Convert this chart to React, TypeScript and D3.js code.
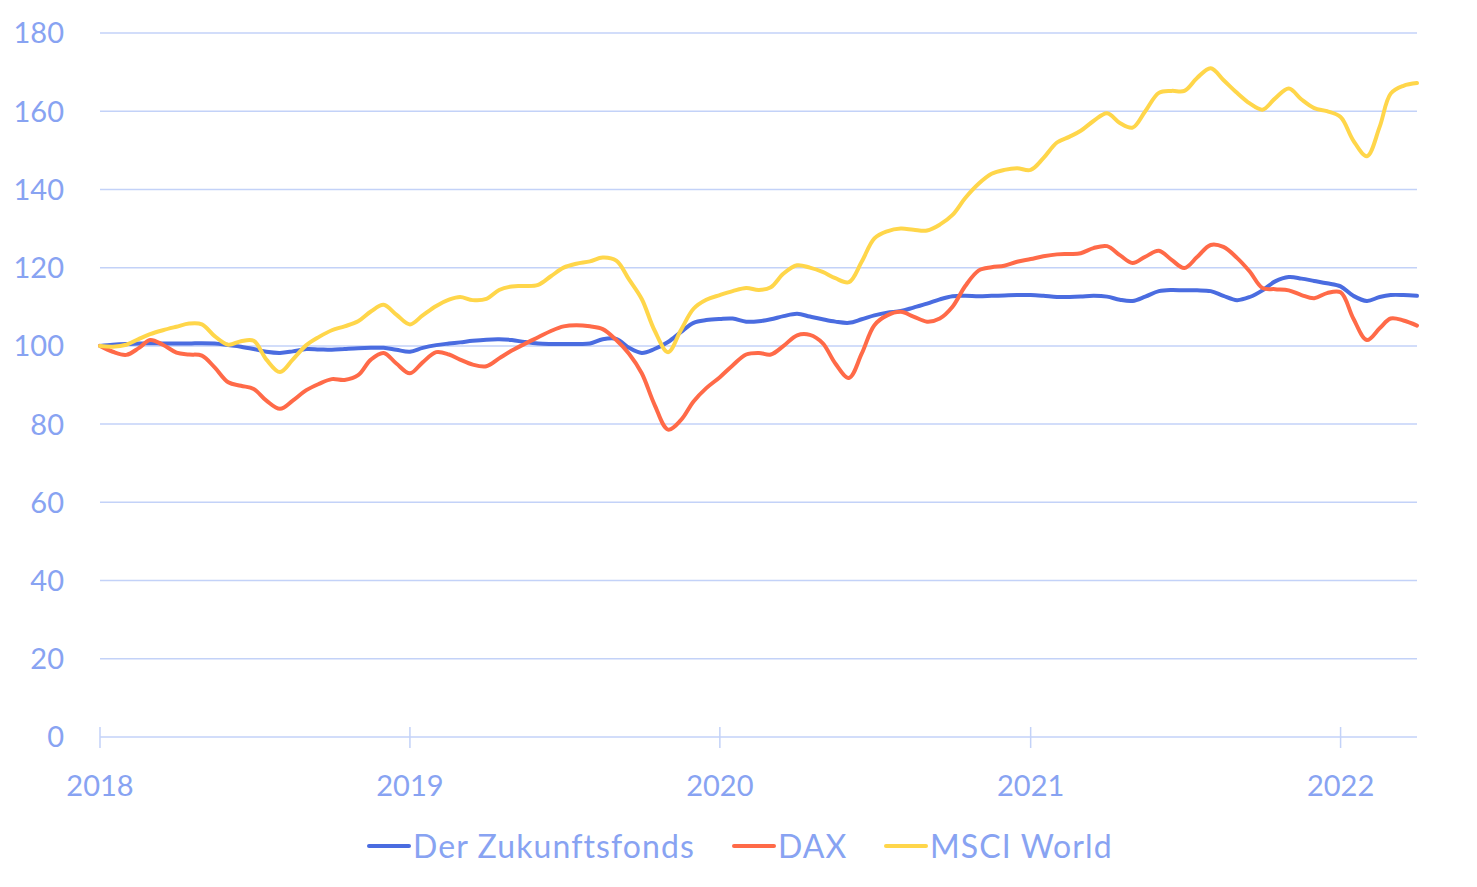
import React, { useRef, useEffect } from "react";
import * as d3 from "d3";

// half-monthly observations, 1 Jan 2018 .. 1 Apr 2022
const startYear = 2018;
const pointCount = 103;
const dates = d3.range(pointCount).map(i => new Date(startYear, Math.floor(i / 2), i % 2 ? 16 : 1));

const zukunftsfonds = [
  100, 100.3, 100.5, 100.6, 100.7, 100.6, 100.6, 100.6, 100.7, 100.6,
  100.2, 99.8, 99.2, 98.5, 98.2, 98.6, 99.2, 99.1, 99, 99.2,
  99.4, 99.5, 99.5, 99, 98.5, 99.5, 100.2, 100.6, 100.9, 101.3,
  101.6, 101.7, 101.5, 101, 100.6, 100.5, 100.5, 100.5, 100.6, 101.7,
  101.8, 99.5, 98.2, 99.2, 101, 103.5, 105.9, 106.6, 106.9, 107,
  106.2, 106.3, 106.8, 107.6, 108.2, 107.5, 106.8, 106.2, 105.9, 106.8,
  107.8, 108.5, 108.9, 109.8, 110.8, 111.9, 112.7, 112.8, 112.7, 112.8,
  112.9, 113, 113, 112.8, 112.5, 112.5, 112.6, 112.8, 112.6, 111.8,
  111.5, 112.6, 114, 114.3, 114.2, 114.2, 114, 112.8, 111.7, 112.5,
  114.2, 116.5, 117.6, 117.2, 116.6, 116, 115.2, 112.8, 111.5, 112.5,
  113, 113, 112.8
];

const dax = [
  100, 98.5, 97.7, 99.5, 101.5, 100.3, 98.3, 97.8, 97.5, 94.5,
  90.7, 89.8, 89, 86, 83.9, 86, 88.7, 90.3, 91.5, 91.3,
  92.5, 96.5, 98.2, 95.5, 93, 95.8, 98.4, 97.8, 96.5, 95.2,
  94.8, 96.8, 98.8, 100.5, 102.2, 103.8, 105, 105.3, 105, 104.3,
  101.5, 98, 93, 85, 78.6, 81, 85.8, 89.2, 92, 95,
  97.8, 98.2, 97.8, 100, 102.7, 102.8, 100.7, 95.5, 91.8, 98,
  105.3, 107.8, 108.7, 107.5, 106.2, 107, 110, 115.3, 119.3, 120.1,
  120.5, 121.5, 122.2, 122.9, 123.4, 123.5, 123.7, 125, 125.5, 123.2,
  121.2, 122.8, 124.3, 122, 119.9, 122.7, 125.8, 125.3, 122.5, 119,
  114.8, 114.5, 114.2, 113, 112.2, 113.5, 113.7, 107, 101.5, 104.5,
  107, 106.5, 105.2
];

const msciWorld = [
  100, 99.8, 100.3, 101.8, 103, 104, 104.9, 105.7, 105.5, 102.5,
  100.3, 101.2, 101.3, 96.5, 93.3, 96.5, 100.2, 102.3, 104, 105,
  106.3, 108.8, 110.5, 108, 105.5, 107.8, 110.2, 111.8, 112.5, 111.7,
  112, 114.3, 115.2, 115.3, 115.6, 117.8, 120, 121, 121.6, 122.6,
  121.8, 117, 112, 104, 98.4, 104, 109.5, 111.8, 113, 114,
  114.8, 114.3, 115, 118.5, 120.6, 120, 118.9, 117.3, 116.3, 121.5,
  127.5, 129.3, 130, 129.7, 129.5, 131, 133.5, 137.8, 141.5, 144,
  145, 145.4, 145, 148, 152, 153.5, 155, 157.5, 159.5, 157,
  155.8, 160, 164.7, 165.2, 165.2, 168.5, 171, 168, 164.7, 162,
  160.4, 163.3, 165.8, 163, 160.8, 160, 158.5, 152.5, 148.5, 156,
  164.5, 166.5, 167.2
];

const seriesNames = ["Der Zukunftsfonds", "DAX", "MSCI World"];
const seriesValues = [zukunftsfonds, dax, msciWorld];
const seriesColors = ["#4a6ce0", "#ff6a48", "#ffd64a"];

const yTicks = [0, 20, 40, 60, 80, 100, 120, 140, 160, 180];
const xTickYears = [2018, 2019, 2020, 2021, 2022];

const textColor = "#88a3f2";
const gridColor = "#c3d2f8";
const font = "Lato, 'Noto Sans', sans-serif";

const App = () => {
  const ref = useRef(null);
  const width = 1477;
  const height = 887;

  useEffect(() => {
    const svg = d3.select(ref.current);
    svg.selectAll("*").remove();

    const x = d3.scaleTime()
      .domain([new Date(2018, 0, 1), new Date(2022, 3, 1)])
      .range([100, 1417]);
    const y = d3.scaleLinear().domain([0, 180]).range([737, 33]);

    // horizontal grid
    svg.append("g")
      .selectAll("line")
      .data(yTicks)
      .join("line")
      .attr("x1", 100)
      .attr("x2", 1417)
      .attr("y1", d => y(d))
      .attr("y2", d => y(d))
      .attr("stroke", gridColor)
      .attr("stroke-width", 1.5);

    // y labels
    svg.append("g")
      .selectAll("text")
      .data(yTicks)
      .join("text")
      .attr("x", 64)
      .attr("y", d => y(d))
      .attr("dy", "0.36em")
      .attr("text-anchor", "end")
      .attr("fill", textColor)
      .attr("font-family", font)
      .attr("font-size", 29)
      .text(d => d);

    // x axis ticks + labels
    const xTicks = xTickYears.map(yr => new Date(yr, 0, 1));
    svg.append("g")
      .selectAll("line")
      .data(xTicks)
      .join("line")
      .attr("x1", d => x(d))
      .attr("x2", d => x(d))
      .attr("y1", 727)
      .attr("y2", 748)
      .attr("stroke", gridColor)
      .attr("stroke-width", 1.5);

    svg.append("g")
      .selectAll("text")
      .data(xTicks)
      .join("text")
      .attr("x", d => x(d))
      .attr("y", 796)
      .attr("text-anchor", "middle")
      .attr("fill", textColor)
      .attr("font-family", font)
      .attr("font-size", 29)
      .text(d => d3.timeFormat("%Y")(d));

    const line = d3.line()
      .curve(d3.curveCatmullRom.alpha(0.5))
      .x((d, i) => x(dates[i]))
      .y(d => y(d));

    seriesValues.forEach((vals, s) => {
      svg.append("path")
        .attr("d", line(vals))
        .attr("fill", "none")
        .attr("stroke", seriesColors[s])
        .attr("stroke-width", 4)
        .attr("stroke-linejoin", "round")
        .attr("stroke-linecap", "round");
    });

    // legend
    const legendX = [369, 734, 886];
    const legend = svg.append("g");
    seriesNames.forEach((name, i) => {
      legend.append("line")
        .attr("x1", legendX[i])
        .attr("x2", legendX[i] + 40)
        .attr("y1", 846)
        .attr("y2", 846)
        .attr("stroke", seriesColors[i])
        .attr("stroke-width", 4)
        .attr("stroke-linecap", "round");
      legend.append("text")
        .attr("x", legendX[i] + 44)
        .attr("y", 846)
        .attr("dy", "0.36em")
        .attr("fill", textColor)
        .attr("font-family", font)
        .attr("font-size", 32)
        .attr("letter-spacing", 1.1)
        .text(name);
    });
  }, []);

  return (
    <div style={{ position: "absolute", left: 0, top: 0 }}>
      <svg ref={ref} width={width} height={height} style={{ display: "block", background: "#fff" }}></svg>
    </div>
  );
};

export default App;
